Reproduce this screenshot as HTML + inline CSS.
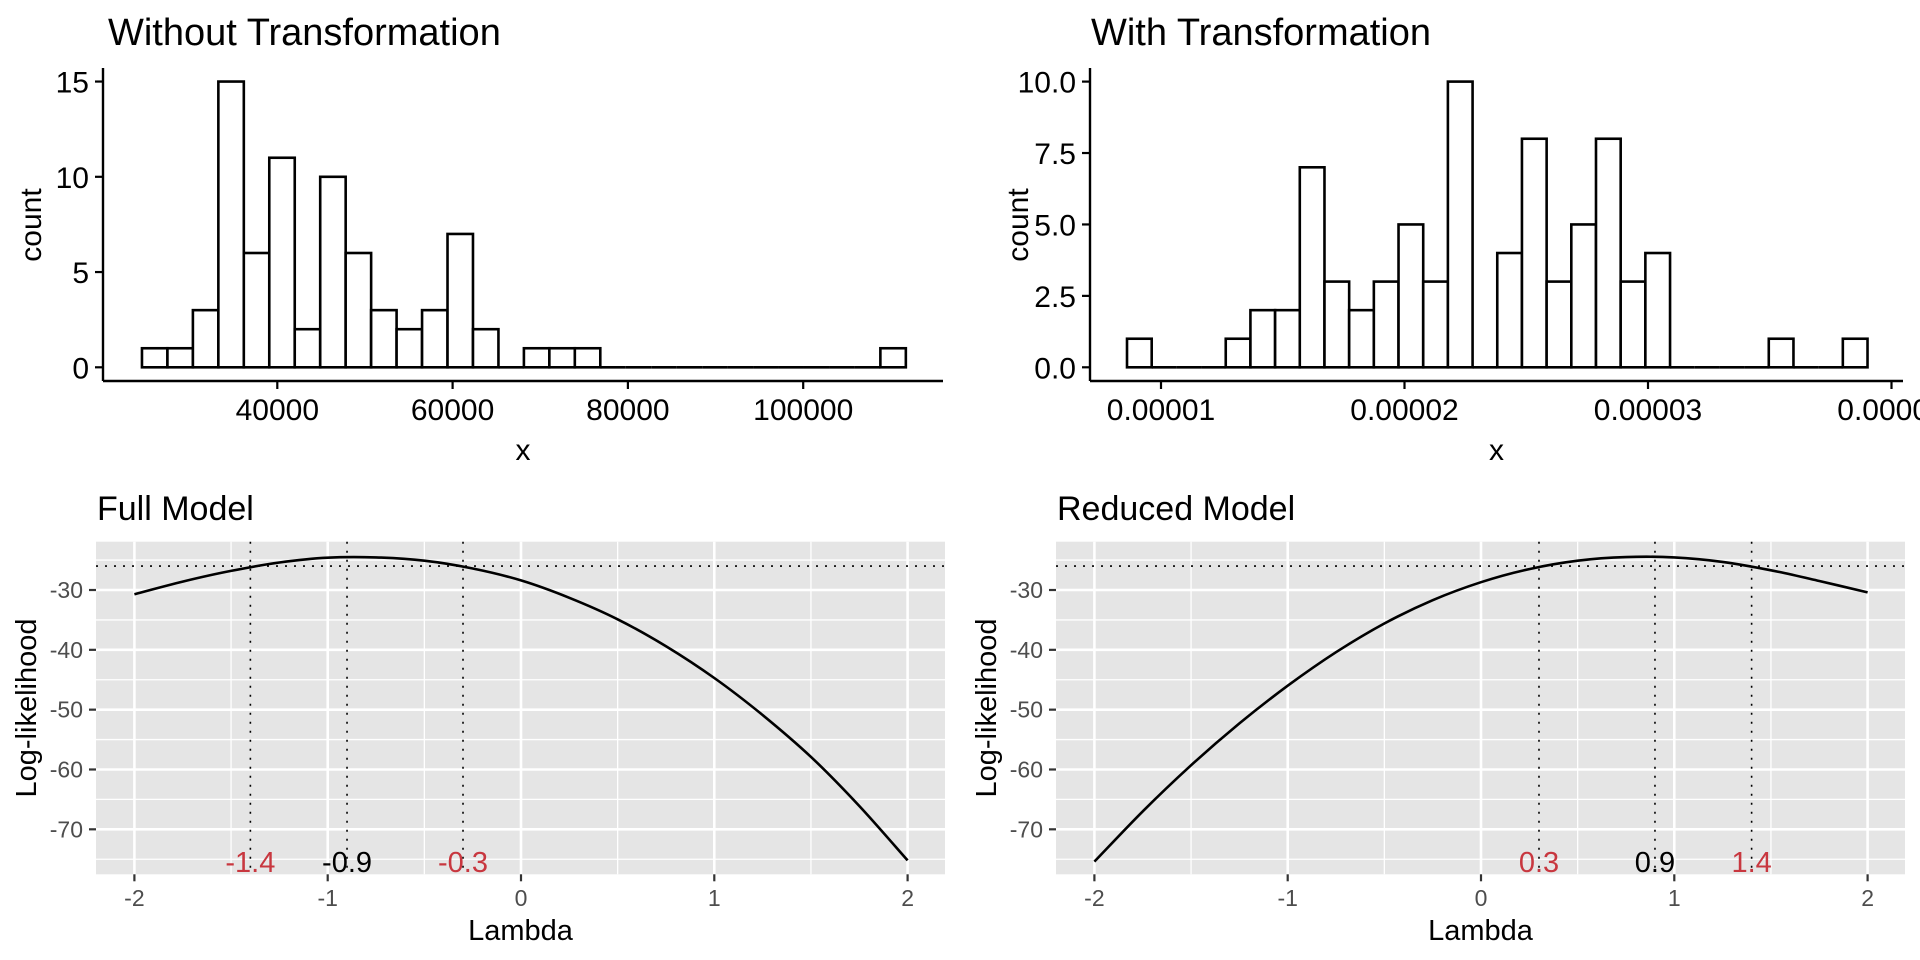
<!DOCTYPE html>
<html><head><meta charset="utf-8">
<style>
html,body{margin:0;padding:0;background:#fff;}
svg{display:block;font-family:"Liberation Sans",Arial,sans-serif;}
</style></head>
<body>
<svg id="chart" width="1920" height="960" viewBox="0 0 1920 960" xmlns="http://www.w3.org/2000/svg">
<rect x="0" y="0" width="1920" height="960" fill="#fff"/>
<g id="p1"></g>
<g id="p2"></g>
<g id="p3"></g>
<g id="p4"></g>
</svg>
<script>
// ---- data ----
const hist1Counts = [1,1,3,15,6,11,2,10,6,3,2,3,7,2,0,1,1,1,0,0,0,0,0,0,0,0,0,0,0,1];
const hist1BinStart = 24560;
const hist1BinWidth = 2905;
const hist1XTicks = [40000,60000,80000,100000];
const hist1XTickLabels = ["40000","60000","80000","100000"];
const hist1YTicks = [0,5,10,15];
const hist1YTickLabels = ["0","5","10","15"];

const hist2Counts = [1,0,0,0,1,2,2,7,3,2,3,5,3,10,0,4,8,3,5,8,3,4,0,0,0,0,1,0,0,1];
const hist2BinStart = 0.000008604;
const hist2BinWidth = 0.0000010137;
const hist2XTicks = [0.00001,0.00002,0.00003,0.00004];
const hist2XTickLabels = ["0.00001","0.00002","0.00003","0.00004"];
const hist2YTicks = [0,2.5,5,7.5,10];
const hist2YTickLabels = ["0.0","2.5","5.0","7.5","10.0"];

const lambdaGrid = [-2,-1.75,-1.5,-1.25,-1,-0.75,-0.5,-0.25,0,0.25,0.5,0.75,1,1.25,1.5,1.75,2];
const fullLogLik = [-30.7,-28.6,-26.8,-25.4,-24.6,-24.55,-25.1,-26.4,-28.4,-31.3,-34.9,-39.4,-44.7,-50.9,-57.9,-66.1,-75.2];
const reducedLogLik = [-75.4,-67.0,-59.3,-52.3,-46.0,-40.4,-35.6,-31.7,-28.7,-26.5,-25.1,-24.5,-24.55,-25.3,-26.7,-28.5,-30.4];
const fullCI = [-1.4,-0.9,-0.3];
const fullCILabels = ["-1.4","-0.9","-0.3"];
const reducedCI = [0.3,0.9,1.4];
const reducedCILabels = ["0.3","0.9","1.4"];
const fullCutoff = -26.0;
const reducedCutoff = -26.0;
const llXTicks = [-2,-1,0,1,2];
const llXTickLabels = ["-2","-1","0","1","2"];
const llYTicks = [-30,-40,-50,-60,-70];
const llYTickLabels = ["-30","-40","-50","-60","-70"];

const NS = "http://www.w3.org/2000/svg";
function mk(parent, tag, attrs, text){
  const e = document.createElementNS(NS, tag);
  for (const k in attrs) e.setAttribute(k, attrs[k]);
  if (text !== undefined) e.textContent = text;
  parent.appendChild(e);
  return e;
}

function histogram(g, o){
  const xs = v => o.x0px + (v - o.x0v) * o.pxPerUnit;
  const ys = c => o.y0px - c * o.pxPerCount;
  let t = mk(g,'text',{x:o.titleX,y:45,'font-size':38,fill:'#000'},o.title);
  
  
  o.counts.forEach((c,i)=>{
    const l = xs(o.binStart + i*o.binWidth), r = xs(o.binStart + (i+1)*o.binWidth);
    let b;
    if (c === 0) {
      b = mk(g,'line',{x1:l,y1:ys(0),x2:r,y2:ys(0),stroke:'#000','stroke-width':2.6});
    } else {
      b = mk(g,'rect',{x:l,y:ys(c),width:r-l,height:c*o.pxPerCount,fill:'#fff',stroke:'#000','stroke-width':2.6});
    }
    
    
  });
  let ax = mk(g,'line',{x1:o.axL,y1:381,x2:o.axR,y2:381,stroke:'#000','stroke-width':2.4});
  
  
  let ay = mk(g,'line',{x1:o.axL,y1:68,x2:o.axL,y2:381,stroke:'#000','stroke-width':2.4});
  
  
  o.xTicks.forEach((v,i)=>{
    const x = xs(v);
    let tk = mk(g,'line',{x1:x,y1:381,x2:x,y2:389,stroke:'#000','stroke-width':2.2});
    
    
    let lb = mk(g,'text',{x:x,y:420,'font-size':30,'text-anchor':'middle',fill:'#000'},o.xTickLabels[i]);
    
    
  });
  o.yTicks.forEach((v,i)=>{
    const y = ys(v);
    let tk = mk(g,'line',{x1:o.axL-8,y1:y,x2:o.axL,y2:y,stroke:'#000','stroke-width':2.2});
    
    
    let lb = mk(g,'text',{x:o.axL-14,y:y+11,'font-size':30,'text-anchor':'end',fill:'#000'},o.yTickLabels[i]);
    
    
  });
  let xt = mk(g,'text',{x:(o.axL+o.axR)/2,y:460,'font-size':30,'text-anchor':'middle',fill:'#000'},'x');
  
  
  let yt = mk(g,'text',{x:0,y:0,'font-size':30,'text-anchor':'middle',fill:'#000',transform:`translate(${o.axL-62},225) rotate(-90)`},'count');
  
  
}

histogram(document.getElementById('p1'),{
  title:'Without Transformation', titleX:108,
  counts:hist1Counts, binStart:hist1BinStart, binWidth:hist1BinWidth,
  x0px:277.3, x0v:40000, pxPerUnit:175.3/20000,
  y0px:367.3, pxPerCount:19.05,
  axL:103, axR:943,
  xTicks:hist1XTicks, xTickLabels:hist1XTickLabels, yTicks:hist1YTicks, yTickLabels:hist1YTickLabels
});
histogram(document.getElementById('p2'),{
  title:'With Transformation', titleX:1091,
  counts:hist2Counts, binStart:hist2BinStart, binWidth:hist2BinWidth,
  x0px:1161, x0v:0.00001, pxPerUnit:243.5/0.00001,
  y0px:367.3, pxPerCount:28.57,
  axL:1090, axR:1903,
  xTicks:hist2XTicks, xTickLabels:hist2XTickLabels, yTicks:hist2YTicks, yTickLabels:hist2YTickLabels
});

function smoothPath(pts){
  let d = 'M'+pts[0][0].toFixed(1)+' '+pts[0][1].toFixed(1);
  for (let i=0;i<pts.length-1;i++){
    const p0 = pts[Math.max(0,i-1)], p1 = pts[i], p2 = pts[i+1], p3 = pts[Math.min(pts.length-1,i+2)];
    const c1x = p1[0]+(p2[0]-p0[0])/6, c1y = p1[1]+(p2[1]-p0[1])/6;
    const c2x = p2[0]-(p3[0]-p1[0])/6, c2y = p2[1]-(p3[1]-p1[1])/6;
    d += ` C${c1x.toFixed(1)} ${c1y.toFixed(1)} ${c2x.toFixed(1)} ${c2y.toFixed(1)} ${p2[0].toFixed(1)} ${p2[1].toFixed(1)}`;
  }
  return d;
}

function loglik(g, o){
  const pL = o.off+96, pR = o.off+945, pT = 541.7, pB = 874.3;
  const xs = l => o.off + 521 + l*193.3;
  const ys = v => 590 + (-30 - v) * 5.983;
  let t = mk(g,'text',{x:o.off+97,y:520,'font-size':34,fill:'#000'},o.title);
  
  
  let bg = mk(g,'rect',{x:pL,y:pT,width:pR-pL,height:pB-pT,fill:'#e5e5e5'});
  
  
  for (let v=-25; v>=-75; v-=10){
    const y = ys(v); if (y<pT||y>pB) continue;
    let gl = mk(g,'line',{x1:pL,y1:y,x2:pR,y2:y,stroke:'#fff','stroke-width':1.3});
    
    
  }
  for (let l=-1.5; l<=1.5; l+=1){
    const x = xs(l);
    let gl = mk(g,'line',{x1:x,y1:pT,x2:x,y2:pB,stroke:'#fff','stroke-width':1.3});
    
    
  }
  llYTicks.forEach(v=>{
    const y = ys(v);
    let gl = mk(g,'line',{x1:pL,y1:y,x2:pR,y2:y,stroke:'#fff','stroke-width':2.6});
    
    
  });
  llXTicks.forEach(l=>{
    const x = xs(l);
    let gl = mk(g,'line',{x1:x,y1:pT,x2:x,y2:pB,stroke:'#fff','stroke-width':2.6});
    
    
  });
  let hl = mk(g,'line',{x1:pL,y1:ys(o.cutoff),x2:pR,y2:ys(o.cutoff),stroke:'#000','stroke-width':1.6,'stroke-dasharray':'2 7'});
  
  
  o.ci.forEach((l,i)=>{
    const x = xs(l);
    let vl = mk(g,'line',{x1:x,y1:pT,x2:x,y2:pB,stroke:'#000','stroke-width':1.6,'stroke-dasharray':'2 7'});
    
    
  });
  const pts = o.vals.map((v,i)=>[xs(lambdaGrid[i]), ys(v)]);
  let c = mk(g,'path',{d:smoothPath(pts),fill:'none',stroke:'#000','stroke-width':2.6,'stroke-linejoin':'round'});
  
  
  o.ci.forEach((l,i)=>{
    let lb = mk(g,'text',{x:xs(l),y:872,'font-size':29,'text-anchor':'middle',fill:i===1?'#000':'#c8373f'},o.ciLabels[i]);
    
    
  });
  llXTicks.forEach((l,i)=>{
    const x = xs(l);
    let tk = mk(g,'line',{x1:x,y1:pB,x2:x,y2:pB+7,stroke:'#333','stroke-width':2.2});
    
    
    let lb = mk(g,'text',{x:x,y:906,'font-size':23,'text-anchor':'middle',fill:'#4d4d4d'},llXTickLabels[i]);
    
    
  });
  llYTicks.forEach((v,i)=>{
    const y = ys(v);
    let tk = mk(g,'line',{x1:pL-7,y1:y,x2:pL,y2:y,stroke:'#333','stroke-width':2.2});
    
    
    let lb = mk(g,'text',{x:pL-13,y:y+8,'font-size':23,'text-anchor':'end',fill:'#4d4d4d'},llYTickLabels[i]);
    
    
  });
  let xt = mk(g,'text',{x:(pL+pR)/2,y:940,'font-size':29,'text-anchor':'middle',fill:'#000'},'Lambda');
  
  
  let yt = mk(g,'text',{x:0,y:0,'font-size':29,'text-anchor':'middle',fill:'#000',transform:`translate(${o.off+36},708) rotate(-90)`},'Log-likelihood');
  
  
}

loglik(document.getElementById('p3'),{off:0,title:'Full Model',vals:fullLogLik,ci:fullCI,ciLabels:fullCILabels,cutoff:fullCutoff});
loglik(document.getElementById('p4'),{off:960,title:'Reduced Model',vals:reducedLogLik,ci:reducedCI,ciLabels:reducedCILabels,cutoff:reducedCutoff});
</script>
</body></html>
